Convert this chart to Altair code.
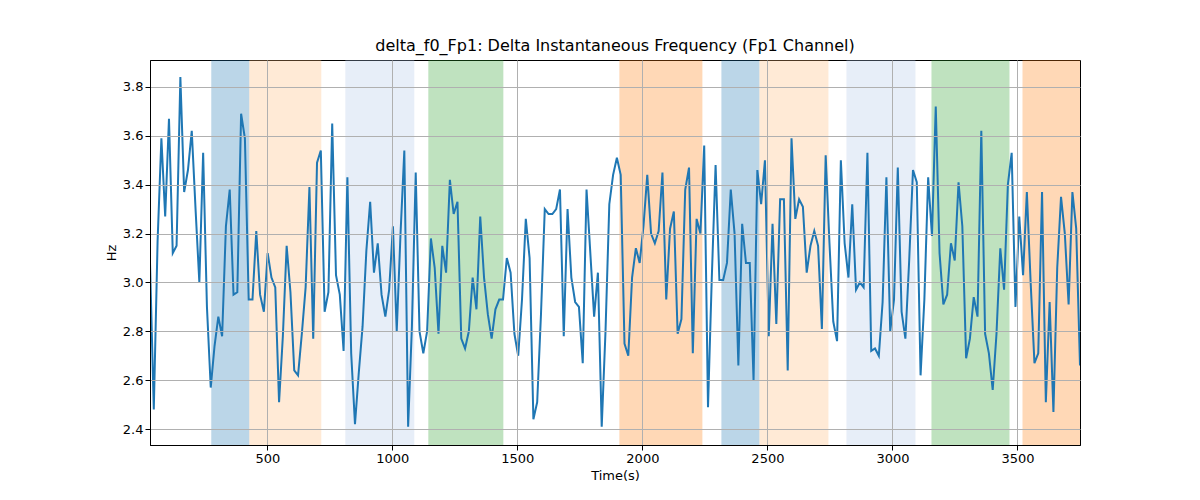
import altair as alt
import numpy as np
import pandas as pd

values = [
    3.08, 2.48, 3.17, 3.59, 3.27, 3.67, 3.12, 3.15, 3.84, 3.37, 3.46, 3.62, 3.3, 3.0, 3.53, 2.9,
    2.57, 2.74, 2.86, 2.78, 3.23, 3.38, 2.95, 2.96, 3.69, 3.59, 2.93, 2.93, 3.21, 2.95, 2.88, 3.12,
    3.02, 2.98, 2.51, 2.78, 3.15, 2.96, 2.64, 2.62, 2.79, 2.98, 3.39, 2.77, 3.49, 3.54, 2.88, 2.96,
    3.65, 3.03, 2.95, 2.72, 3.43, 2.71, 2.42, 2.63, 2.82, 3.13, 3.33, 3.04, 3.16, 2.95, 2.86, 2.97,
    3.23, 2.8, 3.2, 3.54, 2.41, 2.82, 3.45, 2.8, 2.71, 2.8, 3.18, 3.06, 2.79, 3.15, 3.04,
    3.42, 3.28, 3.33, 2.77, 2.73, 2.8, 3.02, 2.89, 3.27, 3.02, 2.87, 2.77, 2.89, 2.93, 2.93, 3.1,
    3.04, 2.79, 2.7, 2.93, 3.26, 3.1, 2.44, 2.51, 2.87, 3.3, 3.28, 3.28, 3.3, 3.38, 2.78, 3.3,
    3.02, 2.92, 2.9, 2.67, 3.38, 3.12, 2.86, 3.04, 2.41, 2.8, 3.32, 3.44, 3.51, 3.44, 2.75, 2.7,
    3.02, 3.14, 3.08, 3.23, 3.44, 3.2, 3.16, 3.21, 3.45, 2.93, 3.22, 3.29, 2.79, 2.85, 3.38, 3.47,
    2.71, 3.26, 3.2, 3.56, 2.49, 3.02, 3.48, 3.01, 3.01, 3.08, 3.38, 3.2, 2.66, 3.24, 3.08, 3.08,
    2.6, 3.46, 3.32, 3.5,
    2.78, 3.24, 2.83, 3.34, 3.34, 2.64, 3.59, 3.26, 3.34, 3.31, 3.04, 3.15, 3.21, 3.15, 2.81, 3.52,
    3.16, 2.84, 2.76, 3.5, 3.16, 3.02, 3.32, 2.97, 3.0, 2.98, 3.53, 2.72, 2.73, 2.7, 2.92, 3.43,
    2.8, 2.93, 3.47, 2.88, 2.77, 3.09, 3.46, 3.41, 2.62, 2.93, 3.43, 3.19, 3.72, 3.12, 2.91, 2.95,
    3.16, 3.09, 3.41, 3.23, 2.69, 2.77, 2.94, 2.86, 3.62, 2.79, 2.71, 2.56, 2.79, 3.14, 2.97, 3.4,
    3.53, 2.9, 3.27, 3.03, 3.37, 3.0, 2.67, 2.71, 3.37, 2.51, 2.92, 2.47, 3.06, 3.35, 3.2, 2.91,
    3.37, 3.22, 2.66,
]
times = np.linspace(31, 3750, len(values))

span_start = [276, 428, 812, 1144, 1908, 2316, 2468, 2816, 3156, 3520]
span_end = [428, 716, 1088, 1444, 2240, 2468, 2744, 3092, 3468, 3750]
span_color = ["#1f77b4", "#ffbb78", "#aec7e8", "#2ca02c", "#ff7f0e",
              "#1f77b4", "#ffbb78", "#aec7e8", "#2ca02c", "#ff7f0e"]

df = pd.DataFrame({"t": times, "hz": values})
spans = pd.DataFrame({"start": span_start, "end": span_end, "color": span_color})

xscale = alt.Scale(domain=[31, 3750], nice=False, zero=False)
yscale = alt.Scale(domain=[2.335, 3.91], nice=False, zero=False)
ax = dict(grid=True, gridColor="#b0b0b0", gridWidth=1, domainColor="black", tickColor="black",
          labelFontSize=13, titleFontSize=13, labelColor="black", titleColor="black",
          labelFont="DejaVu Sans", titleFont="DejaVu Sans", titleFontWeight="normal", zindex=1)

bands = alt.Chart(spans).mark_rect(opacity=0.3).encode(
    x=alt.X("start:Q", scale=xscale),
    x2="end:Q",
    color=alt.Color("color:N", scale=None),
)

line = alt.Chart(df).mark_line(color="#1f77b4", strokeWidth=2, clip=True).encode(
    x=alt.X("t:Q", scale=xscale, axis=alt.Axis(title="Time(s)", values=[500, 1000, 1500, 2000, 2500, 3000, 3500], format="d", **ax)),
    y=alt.Y("hz:Q", scale=yscale, axis=alt.Axis(title="Hz", values=[2.4, 2.6, 2.8, 3.0, 3.2, 3.4, 3.6, 3.8], format=".1f", **ax)),
)

chart = (bands + line).properties(
    width=930, height=385,
    title=alt.Title("delta_f0_Fp1: Delta Instantaneous Frequency (Fp1 Channel)",
                    font="DejaVu Sans", fontSize=16, fontWeight="normal", offset=6),
    autosize=alt.AutoSizeParams(type="none"),
    padding={"left": 142, "top": 52, "right": 110, "bottom": 45},
).configure_view(stroke="black", strokeWidth=1)

chart.save("out.html", embed_options={"renderer": "svg", "actions": False})
